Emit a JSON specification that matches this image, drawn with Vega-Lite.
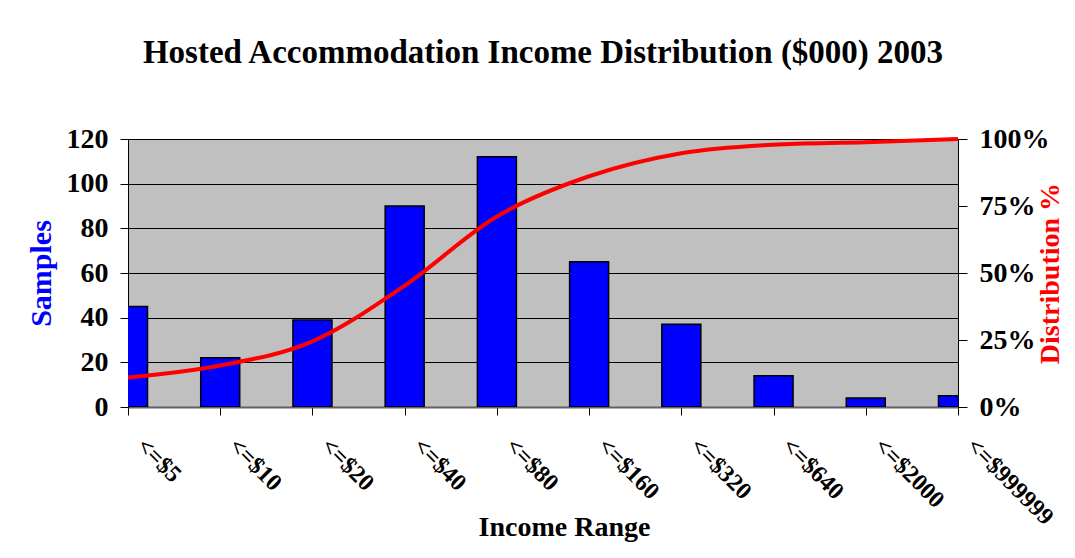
{
  "$schema": "https://vega.github.io/schema/vega-lite/v6.json",
  "width": 830,
  "height": 268,
  "autosize": {"type": "none"},
  "padding": {"left": 128, "top": 139, "right": 117, "bottom": 151},
  "background": "white",
  "title": {
    "text": "Hosted Accommodation Income Distribution ($000) 2003",
    "font": "Liberation Serif",
    "fontSize": 33,
    "fontWeight": "bold",
    "color": "black",
    "anchor": "middle",
    "offset": 55
  },
  "data": {
    "values": [
      {"range": "<=$5", "samples": 45, "cum": 0.11},
      {"range": "<=$10", "samples": 22, "cum": 0.155},
      {"range": "<=$20", "samples": 39, "cum": 0.245},
      {"range": "<=$40", "samples": 90, "cum": 0.453},
      {"range": "<=$80", "samples": 112, "cum": 0.711},
      {"range": "<=$160", "samples": 65, "cum": 0.861},
      {"range": "<=$320", "samples": 37, "cum": 0.947},
      {"range": "<=$640", "samples": 14, "cum": 0.979},
      {"range": "<=$2000", "samples": 4, "cum": 0.988},
      {"range": "<=$999999", "samples": 5, "cum": 1.0}
    ]
  },
  "config": {
    "view": {"fill": "#C0C0C0", "stroke": "#808080", "strokeWidth": 1},
    "axis": {
      "labelFont": "Liberation Serif",
      "labelFontWeight": "bold",
      "labelColor": "black",
      "titleFont": "Liberation Serif",
      "titleFontWeight": "bold",
      "tickColor": "black",
      "domainColor": "black"
    }
  },
  "encoding": {
    "x": {
      "field": "range",
      "type": "nominal",
      "sort": null,
      "scale": {"type": "point", "padding": 0},
      "axis": {
        "title": "Income Range",
        "titleFontSize": 28,
        "titleColor": "black",
        "titleX": 436,
        "titleY": 120,
        "titleBaseline": "middle",
        "labelFontSize": 24,
        "labelAngle": 45,
        "labelAlign": "left",
        "labelBaseline": "middle",
        "labelPadding": 27,
        "labelOffset": 12,
        "tickSize": 8,
        "domainColor": "#606060",
        "domainWidth": 2,
        "grid": false
      }
    }
  },
  "layer": [
    {
      "mark": {"type": "bar", "width": 39, "fill": "#0000FF", "stroke": "black", "strokeWidth": 1.5, "clip": true},
      "encoding": {
        "y": {
          "field": "samples",
          "type": "quantitative",
          "scale": {"domain": [0, 120], "nice": false},
          "axis": {
            "title": "Samples",
            "titleColor": "#0000FF",
            "titleFontSize": 30,
            "titlePadding": 10,
            "values": [0, 20, 40, 60, 80, 100, 120],
            "labelFontSize": 28,
            "labelPadding": 12,
            "tickSize": 8,
            "grid": true,
            "gridColor": "black",
            "gridOpacity": 1,
            "gridWidth": 1
          }
        }
      }
    },
    {
      "mark": {"type": "line", "color": "#FF0000", "strokeWidth": 4, "interpolate": "monotone"},
      "encoding": {
        "y": {
          "field": "cum",
          "type": "quantitative",
          "scale": {"domain": [0, 1], "nice": false},
          "axis": {
            "orient": "right",
            "title": "Distribution %",
            "titleColor": "#FF0000",
            "titleFontSize": 28,
            "titleAngle": 270,
            "titlePadding": 15,
            "format": ".0%",
            "values": [0, 0.25, 0.5, 0.75, 1],
            "labelFontSize": 28,
            "labelPadding": 12,
            "tickSize": 9,
            "grid": false
          }
        }
      }
    }
  ],
  "resolve": {"scale": {"y": "independent"}}
}
